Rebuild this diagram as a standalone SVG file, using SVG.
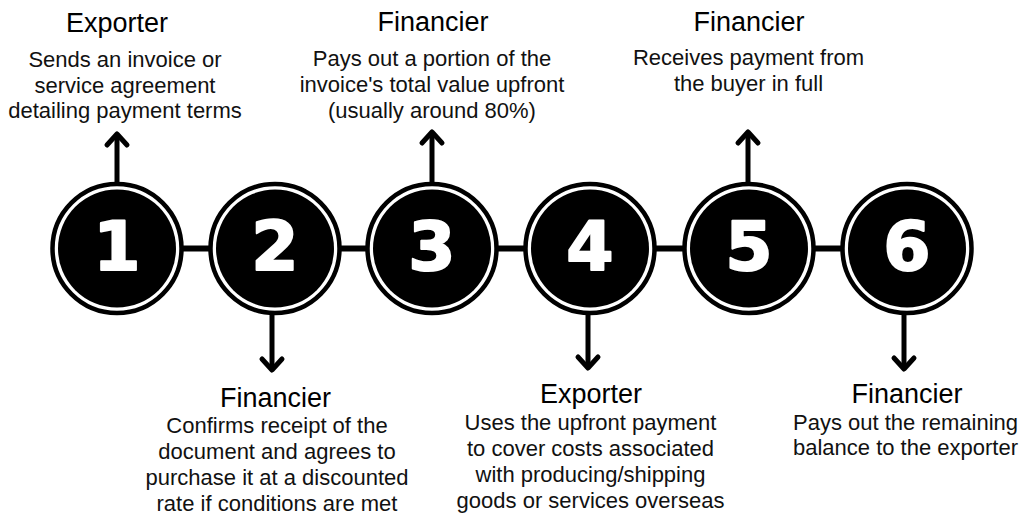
<svg xmlns="http://www.w3.org/2000/svg" width="1024" height="526" viewBox="0 0 1024 526">
<defs>
<style>
.title{font-family:"Liberation Sans",Arial,sans-serif;font-size:27px;fill:#000;text-anchor:middle}
.body{font-family:"Liberation Sans",Arial,sans-serif;font-size:22px;fill:#111;text-anchor:middle}
.ring{fill:#fff;stroke:#000;stroke-width:4.5}
.disk{fill:#000}
.num{font-family:"DejaVu Sans",Verdana,sans-serif;font-weight:bold;font-size:68px;fill:#fff;stroke:#fff;stroke-width:2;stroke-linejoin:round;text-anchor:middle}
.link{stroke:#000;stroke-width:6;fill:none}
.stem{stroke:#000;stroke-width:5;fill:none}
.head{stroke:#000;stroke-width:5;fill:none;stroke-linecap:round;stroke-linejoin:round}
</style>
</defs>
<rect width="1024" height="526" fill="#fff"/>
<g id="connectors">
<line class="link" x1="180" y1="248.5" x2="212" y2="248.5"/>
<line class="link" x1="338" y1="248.5" x2="370" y2="248.5"/>
<line class="link" x1="495" y1="248.5" x2="527" y2="248.5"/>
<line class="link" x1="653" y1="248.5" x2="686" y2="248.5"/>
<line class="link" x1="812" y1="248.5" x2="844" y2="248.5"/>
<line class="stem" x1="117" y1="183" x2="117" y2="135"/>
<polyline class="head" points="107,145 117,134 127,145"/>
<line class="stem" x1="432" y1="183" x2="432" y2="133"/>
<polyline class="head" points="422,143 432,132 442,143"/>
<line class="stem" x1="748" y1="183" x2="748" y2="133"/>
<polyline class="head" points="738,143 748,132 758,143"/>
<line class="stem" x1="272" y1="314" x2="272" y2="369"/>
<polyline class="head" points="262,359 272,370 282,359"/>
<line class="stem" x1="588" y1="314" x2="588" y2="367"/>
<polyline class="head" points="578,357 588,368 598,357"/>
<line class="stem" x1="904" y1="314" x2="904" y2="368"/>
<polyline class="head" points="894,358 904,369 914,358"/>
</g>
<g id="node1">
<circle class="ring" cx="117" cy="248.5" r="64.5"/><circle class="disk" cx="117" cy="248.5" r="59"/>
<text class="num" x="117" y="270">1</text>
<text class="title" x="117" y="32">Exporter</text>
<text class="body" x="125" y="67">Sends an invoice or</text>
<text class="body" x="125" y="92.5">service agreement</text>
<text class="body" x="125" y="118">detailing payment terms</text>
</g>
<g id="node2">
<circle class="ring" cx="275" cy="248.5" r="64.5"/><circle class="disk" cx="275" cy="248.5" r="59"/>
<text class="num" x="275" y="270">2</text>
<text class="title" x="275.5" y="407">Financier</text>
<text class="body" x="277" y="433">Confirms receipt of the</text>
<text class="body" x="277" y="459">document and agrees to</text>
<text class="body" x="277" y="485">purchase it at a discounted</text>
<text class="body" x="277" y="511">rate if conditions are met</text>
</g>
<g id="node3">
<circle class="ring" cx="432" cy="248.5" r="64.5"/><circle class="disk" cx="432" cy="248.5" r="59"/>
<text class="num" x="432" y="270">3</text>
<text class="title" x="433" y="31">Financier</text>
<text class="body" x="432" y="66">Pays out a portion of the</text>
<text class="body" x="432" y="92">invoice's total value upfront</text>
<text class="body" x="432" y="118">(usually around 80%)</text>
</g>
<g id="node4">
<circle class="ring" cx="590" cy="248.5" r="64.5"/><circle class="disk" cx="590" cy="248.5" r="59"/>
<text class="num" x="590" y="270">4</text>
<text class="title" x="591" y="403">Exporter</text>
<text class="body" x="590.5" y="430">Uses the upfront payment</text>
<text class="body" x="590.5" y="456">to cover costs associated</text>
<text class="body" x="590.5" y="482">with producing/shipping</text>
<text class="body" x="590.5" y="508">goods or services overseas</text>
</g>
<g id="node5">
<circle class="ring" cx="749" cy="248.5" r="64.5"/><circle class="disk" cx="749" cy="248.5" r="59"/>
<text class="num" x="749" y="270">5</text>
<text class="title" x="749" y="31">Financier</text>
<text class="body" x="748.5" y="65">Receives payment from</text>
<text class="body" x="748.5" y="91">the buyer in full</text>
</g>
<g id="node6">
<circle class="ring" cx="907" cy="248.5" r="64.5"/><circle class="disk" cx="907" cy="248.5" r="59"/>
<text class="num" x="907" y="270">6</text>
<text class="title" x="907" y="403">Financier</text>
<text class="body" x="905.5" y="430">Pays out the remaining</text>
<text class="body" x="905.5" y="455">balance to the exporter</text>
</g>
</svg>
